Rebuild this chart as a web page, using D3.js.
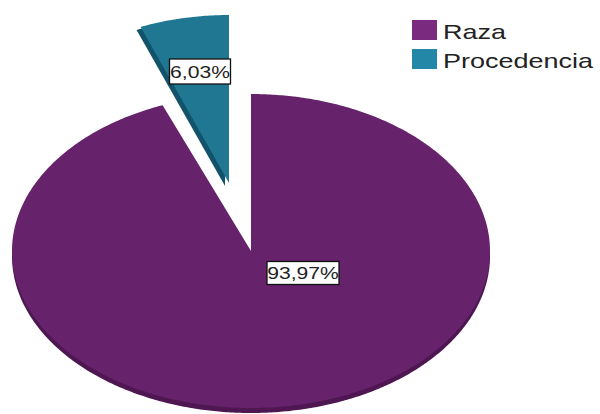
<!DOCTYPE html>
<html><head><meta charset="utf-8">
<script src="https://cdn.jsdelivr.net/npm/d3@7"></script>
<style>body{margin:0;background:#fff}svg{display:block}text{font-family:"Liberation Sans",Arial,sans-serif}</style>
</head><body>
<svg id="c" width="600" height="414"></svg>
<script>
const categories = ["Raza", "Procedencia"];
const values = [93.97, 6.03];
const labels = ["93,97%", "6,03%"];
const topColors = ["#66226A", "#1F7792"];
const sideColors = ["#4E1752", "#12526A"];
const legendColors = ["#7A2A7F", "#2388A8"];

const svg = d3.select("#c");
const cx = 251, cy = 251, rx = 239, ry = 157, depth = 5;
const stretch = 1.28, legendStretch = 1.35;

const pie = d3.pie().sort(null).value(d => d.v);
const arcs = pie(categories.map((c, i) => ({c, v: values[i], i})));

function slicePath(a0, a1, ox, oy, rxx, ryy) {
  const p = d3.path();
  p.moveTo(ox, oy);
  const n = Math.max(8, Math.ceil((a1 - a0) / 0.01));
  for (let k = 0; k <= n; k++) {
    const a = a0 + (a1 - a0) * k / n;
    p.lineTo(ox + rxx * Math.sin(a), oy - ryy * Math.cos(a));
  }
  p.closePath();
  return p.toString();
}

// exploded geometry for the small slice
const explode = {1: {dx: -22, dy: -68, ry: 168}};

svg.append("clipPath").attr("id", "lower").append("rect")
  .attr("x", 0).attr("y", cy).attr("width", 600).attr("height", 414 - cy);

arcs.forEach((a, i) => {
  const e = explode[i];
  const ox = cx + (e ? e.dx : 0), oy = cy + (e ? e.dy : 0), ryy = e ? e.ry : ry;
  if (e) {
    svg.append("path").attr("d", slicePath(a.startAngle, a.endAngle, ox - 4, oy + 3, rx, ryy))
      .attr("fill", sideColors[i]);
  } else {
    svg.append("path").attr("d", slicePath(a.startAngle, a.endAngle, ox, oy + depth, rx, ry))
      .attr("fill", sideColors[i]).attr("clip-path", "url(#lower)");
  }
  svg.append("path").attr("d", slicePath(a.startAngle, a.endAngle, ox, oy, rx, ryy))
    .attr("fill", topColors[i]);
});

// data labels
const labelPos = [{x: 303, y: 273, w: 72, h: 23}, {x: 200, y: 71.5, w: 61, h: 25}];
arcs.forEach((a, i) => {
  const L = labelPos[i];
  const g = svg.append("g");
  g.append("rect").attr("x", L.x - L.w / 2).attr("y", L.y - L.h / 2)
    .attr("width", L.w).attr("height", L.h).attr("fill", "#fff")
    .attr("stroke", "#111").attr("stroke-width", 1.3);
  g.append("text").attr("font-size", 16.5).attr("fill", "#222")
    .attr("text-anchor", "middle").attr("dominant-baseline", "central")
    .attr("transform", `translate(${L.x},${L.y + 0.5}) scale(${stretch},1)`)
    .text(labels[i]);
});

// legend
const lg = svg.append("g");
categories.forEach((c, i) => {
  const y = 20 + i * 29;
  lg.append("rect").attr("x", 412).attr("y", y).attr("width", 25).attr("height", 20)
    .attr("fill", legendColors[i]);
  lg.append("text").attr("font-size", 20).attr("fill", "#222")
    .attr("transform", `translate(443,${y + 19}) scale(${legendStretch},1)`).text(c);
});
</script>
</body></html>
